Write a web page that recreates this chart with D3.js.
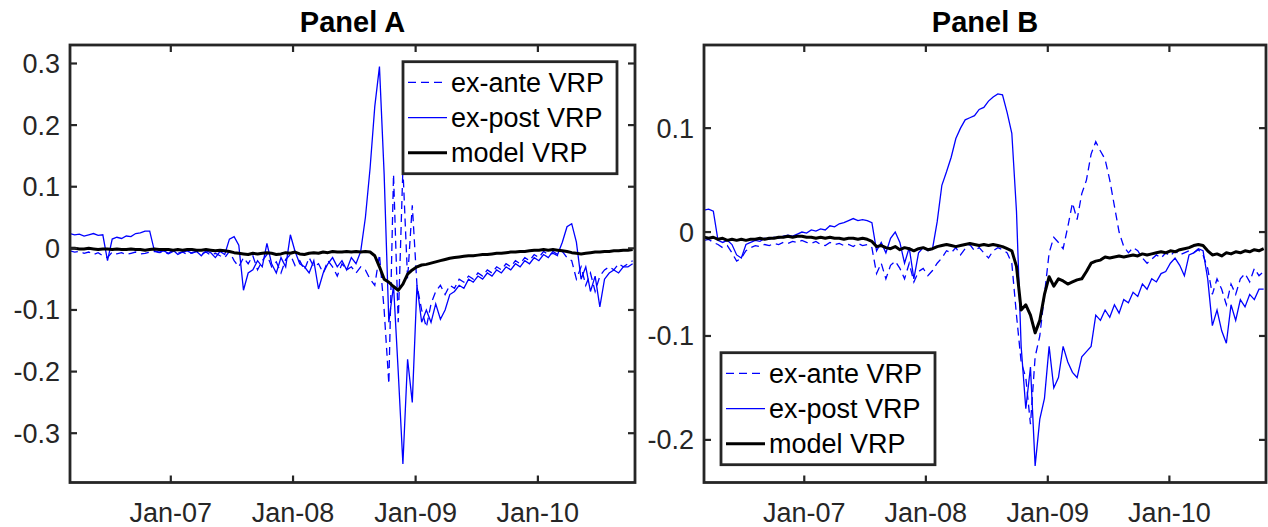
<!DOCTYPE html>
<meta charset="utf-8">
<head>
  <title>VRP panels</title>
</head>

<style>
body {
  margin: 0;
  background: #fff;
}
text {
  font-family: "Liberation Sans", Arial, Helvetica, sans-serif;
  fill: #262626;
}
</style>

<body>
  <svg width="1268" height="527"></svg>

  <script src="https://cdnjs.cloudflare.com/ajax/libs/d3/7.8.5/d3.min.js"></script>

  <script>
// biweekly observations from early March 2006
var startDate = new Date(2006, 2, 6);
var dates = d3.range(121).map(function(i) { return d3.timeDay.offset(startDate, 14 * i); });

var xTickDates = [new Date(2007, 0, 1), new Date(2008, 0, 1), new Date(2009, 0, 1), new Date(2010, 0, 1)];
var xTickLabels = ['Jan-07', 'Jan-08', 'Jan-09', 'Jan-10'];
var yTicksA = [-0.3, -0.2, -0.1, 0, 0.1, 0.2, 0.3];
var yTicksB = [-0.2, -0.1, 0, 0.1];
var legendLabels = ['ex-ante VRP', 'ex-post VRP', 'model VRP'];

// Panel A
var exAnteA = [
  -0.004, -0.006, -0.005, -0.008, -0.006, -0.010, -0.007, -0.012, -0.015, -0.006,
  -0.009, -0.007, -0.010, -0.008, -0.006, -0.009, -0.008, -0.006, -0.005, -0.007,
  -0.006, -0.009, -0.005, -0.008, -0.006, -0.010, -0.007, -0.005, -0.009, -0.006,
  -0.011, -0.008, -0.012, -0.015, -0.005, -0.020, -0.030, -0.015, -0.025, -0.012,
  -0.035, -0.020, -0.010, -0.030, -0.022, -0.040, -0.018, -0.010, -0.028, -0.020,
  -0.035, -0.015, -0.030, -0.025, -0.040, -0.020, -0.030, -0.045, -0.025, -0.035,
  -0.030, -0.040, -0.030, -0.035, -0.050, -0.060, -0.010, -0.100, -0.220, 0.120,
  -0.120, 0.130, -0.050, 0.070, -0.060, -0.100, -0.128, -0.090, -0.070, -0.060,
  -0.075, -0.060, -0.065, -0.050, -0.055, -0.045, -0.050, -0.040, -0.045, -0.035,
  -0.040, -0.030, -0.035, -0.025, -0.030, -0.020, -0.025, -0.015, -0.020, -0.010,
  -0.015, -0.005, -0.010, -0.008, -0.012, -0.005, -0.015, -0.020, -0.050, -0.030,
  -0.060, -0.040, -0.070, -0.045, -0.035, -0.030, -0.035, -0.025, -0.030, -0.025,
  -0.020
];
var exPostA = [
  0.024, 0.022, 0.023, 0.020, 0.022, 0.024, 0.021, 0.022, -0.020, 0.015,
  0.018, 0.016, 0.020, 0.019, 0.024, 0.025, 0.028, 0.028, -0.004, -0.006,
  -0.004, -0.008, -0.003, -0.010, -0.006, -0.004, -0.008, -0.005, -0.012, -0.004,
  -0.007, -0.015, -0.005, -0.010, 0.015, 0.019, 0.005, -0.068, -0.040, -0.035,
  -0.020, -0.030, 0.008, -0.025, -0.040, -0.015, -0.030, 0.022, -0.005, -0.025,
  -0.030, -0.040, -0.020, -0.066, -0.040, -0.025, -0.015, -0.030, -0.020, -0.035,
  -0.015, -0.025, -0.005, 0.050, 0.130, 0.230, 0.295, 0.120, -0.120, -0.060,
  -0.200, -0.350, -0.180, -0.250, -0.060, -0.120, -0.100, -0.120, -0.090, -0.115,
  -0.100, -0.075, -0.070, -0.060, -0.065, -0.050, -0.055, -0.045, -0.050, -0.040,
  -0.045, -0.035, -0.040, -0.030, -0.035, -0.025, -0.030, -0.020, -0.025, -0.015,
  -0.020, -0.010, -0.015, -0.005, -0.010, 0.010, 0.035, 0.040, 0.010, -0.050,
  -0.030, -0.070, -0.045, -0.095, -0.050, -0.040, -0.035, -0.040, -0.030, -0.030,
  -0.025
];
var modelA = [
  0.000, 0.000, -0.001, -0.001, 0.000, -0.001, -0.002, -0.001, -0.001, -0.002,
  -0.001, -0.002, -0.002, -0.001, -0.002, -0.002, -0.003, -0.002, -0.001, -0.002,
  -0.002, -0.002, -0.003, -0.002, -0.003, -0.002, -0.002, -0.003, -0.003, -0.002,
  -0.003, -0.004, -0.003, -0.004, -0.005, -0.007, -0.008, -0.009, -0.010, -0.008,
  -0.009, -0.008, -0.007, -0.008, -0.010, -0.009, -0.007, -0.008, -0.006, -0.009,
  -0.010, -0.008, -0.007, -0.008, -0.006, -0.007, -0.005, -0.006, -0.006, -0.005,
  -0.006, -0.005, -0.006, -0.005, -0.006, -0.012, -0.030, -0.050, -0.055, -0.062,
  -0.068, -0.058, -0.042, -0.035, -0.030, -0.027, -0.026, -0.024, -0.022, -0.020,
  -0.018, -0.016, -0.015, -0.014, -0.013, -0.012, -0.012, -0.011, -0.010, -0.010,
  -0.009, -0.008, -0.008, -0.007, -0.006, -0.006, -0.005, -0.005, -0.004, -0.003,
  -0.003, -0.002, -0.003, -0.002, -0.003, -0.004, -0.005, -0.007, -0.008, -0.009,
  -0.008, -0.007, -0.006, -0.006, -0.005, -0.005, -0.004, -0.004, -0.003, -0.003,
  -0.002
];

// Panel B
var exAnteB = [
  -0.008, -0.007, -0.010, -0.012, -0.015, -0.013, -0.020, -0.028, -0.025, -0.018,
  -0.015, -0.013, -0.014, -0.012, -0.013, -0.011, -0.012, -0.010, -0.011, -0.009,
  -0.010, -0.008, -0.010, -0.011, -0.009, -0.012, -0.013, -0.010, -0.012, -0.011,
  -0.013, -0.012, -0.014, -0.011, -0.013, -0.012, -0.015, -0.040, -0.030, -0.045,
  -0.032, -0.028, -0.035, -0.045, -0.030, -0.048, -0.038, -0.035, -0.042, -0.037,
  -0.030, -0.025, -0.018, -0.020, -0.015, -0.022, -0.016, -0.012, -0.018, -0.015,
  -0.020, -0.025, -0.018, -0.015, -0.017, -0.020, -0.030, -0.080, -0.125, -0.140,
  -0.185, -0.120, -0.100, -0.060, -0.020, -0.005, -0.010, -0.016, 0.005, 0.028,
  0.012, 0.037, 0.050, 0.075, 0.087, 0.078, 0.070, 0.050, 0.025, 0.000,
  -0.014, -0.020, -0.015, -0.018, -0.025, -0.030, -0.026, -0.022, -0.025, -0.020,
  -0.023, -0.018, -0.022, -0.020, -0.018, -0.020, -0.017, -0.022, -0.035, -0.060,
  -0.045, -0.055, -0.070, -0.050, -0.060, -0.045, -0.040, -0.048, -0.035, -0.042,
  -0.038
];
var exPostB = [
  0.021, 0.022, 0.020, -0.008, -0.010, -0.008, -0.012, -0.022, -0.025, -0.012,
  -0.010, -0.008, -0.009, -0.006, -0.007, -0.005, -0.006, -0.004, -0.003, -0.004,
  -0.002, 0.000, -0.001, 0.002, 0.001, 0.003, 0.002, 0.006, 0.005, 0.008,
  0.009, 0.011, 0.013, 0.011, 0.012, 0.011, 0.009, -0.018, -0.010, -0.020,
  -0.006, 0.000, -0.010, -0.030, -0.015, -0.045, -0.020, -0.015, -0.018, -0.016,
  0.010, 0.045, 0.058, 0.072, 0.090, 0.100, 0.108, 0.110, 0.112, 0.118,
  0.120, 0.126, 0.130, 0.133, 0.132, 0.115, 0.095, 0.020, -0.110, -0.170,
  -0.130, -0.225, -0.180, -0.160, -0.110, -0.150, -0.140, -0.110, -0.125, -0.135,
  -0.140, -0.120, -0.115, -0.110, -0.080, -0.085, -0.075, -0.082, -0.070, -0.078,
  -0.065, -0.068, -0.058, -0.062, -0.050, -0.055, -0.045, -0.048, -0.040, -0.038,
  -0.030, -0.025, -0.032, -0.042, -0.022, -0.020, -0.016, -0.018, -0.045, -0.090,
  -0.075, -0.095, -0.107, -0.070, -0.085, -0.065, -0.072, -0.060, -0.065, -0.055,
  -0.055
];
var modelB = [
  -0.005, -0.006, -0.005, -0.007, -0.006, -0.008, -0.007, -0.008, -0.007, -0.008,
  -0.007, -0.007, -0.006, -0.007, -0.006, -0.006, -0.005, -0.005, -0.004, -0.005,
  -0.004, -0.004, -0.005, -0.005, -0.006, -0.005, -0.006, -0.005, -0.006, -0.006,
  -0.007, -0.006, -0.006, -0.007, -0.006, -0.007, -0.009, -0.014, -0.013, -0.015,
  -0.016, -0.014, -0.017, -0.015, -0.016, -0.018, -0.016, -0.015, -0.017, -0.016,
  -0.014, -0.013, -0.012, -0.013, -0.014, -0.013, -0.012, -0.011, -0.012, -0.013,
  -0.012, -0.013, -0.012, -0.013, -0.014, -0.016, -0.018, -0.033, -0.075, -0.070,
  -0.080, -0.097, -0.085, -0.060, -0.043, -0.052, -0.045, -0.047, -0.050, -0.048,
  -0.046, -0.045, -0.038, -0.030, -0.028, -0.027, -0.024, -0.025, -0.024, -0.023,
  -0.024, -0.023, -0.022, -0.023, -0.021, -0.022, -0.021, -0.020, -0.019, -0.020,
  -0.018, -0.019, -0.017, -0.016, -0.015, -0.013, -0.012, -0.013, -0.018, -0.022,
  -0.021, -0.023, -0.020, -0.021, -0.019, -0.020, -0.018, -0.019, -0.017, -0.018,
  -0.016
];

var axisColor = '#262626';
var svg = d3.select('svg');

svg.append('rect').attr('width', 1268).attr('height', 527).attr('fill', '#fff');

function drawPanel(p) {
  var x = d3.scaleTime()
    .domain([startDate, new Date(2010, 9, 18)])
    .range([p.left, p.right]);
  var y = d3.scaleLinear()
    .domain(p.yDomain)
    .range([p.bottom, p.top]);

  var g = svg.append('g');

  g.append('clipPath').attr('id', 'clip' + p.id)
    .append('rect')
    .attr('x', p.left).attr('y', p.top)
    .attr('width', p.right - p.left).attr('height', p.bottom - p.top);

  var line = d3.line()
    .x(function(d, i) { return x(dates[i]); })
    .y(function(d) { return y(d); });

  var plot = g.append('g').attr('clip-path', 'url(#clip' + p.id + ')');

  plot.append('path').attr('d', line(p.exAnte))
    .attr('fill', 'none').attr('stroke', '#0000ff')
    .attr('stroke-width', 1.3).attr('stroke-dasharray', '8,5');
  plot.append('path').attr('d', line(p.exPost))
    .attr('fill', 'none').attr('stroke', '#0000ff')
    .attr('stroke-width', 1.3);
  plot.append('path').attr('d', line(p.model))
    .attr('fill', 'none').attr('stroke', '#000')
    .attr('stroke-width', 3).attr('stroke-linejoin', 'round');

  // ticks inside, on all four sides
  var tickLen = 7;
  xTickDates.forEach(function(d, i) {
    var xx = x(d);
    g.append('line').attr('x1', xx).attr('x2', xx)
      .attr('y1', p.bottom).attr('y2', p.bottom - tickLen)
      .attr('stroke', axisColor).attr('stroke-width', 2.2);
    g.append('line').attr('x1', xx).attr('x2', xx)
      .attr('y1', p.top).attr('y2', p.top + tickLen)
      .attr('stroke', axisColor).attr('stroke-width', 2.2);
    g.append('text').attr('x', xx).attr('y', 521.5)
      .attr('text-anchor', 'middle').style('font-size', '27px')
      .text(xTickLabels[i]);
  });
  p.yTicks.forEach(function(v) {
    var yy = y(v);
    g.append('line').attr('x1', p.left).attr('x2', p.left + tickLen)
      .attr('y1', yy).attr('y2', yy)
      .attr('stroke', axisColor).attr('stroke-width', 2.2);
    g.append('line').attr('x1', p.right).attr('x2', p.right - tickLen)
      .attr('y1', yy).attr('y2', yy)
      .attr('stroke', axisColor).attr('stroke-width', 2.2);
    g.append('text').attr('x', p.left - 10).attr('y', yy + 9.5)
      .attr('text-anchor', 'end').style('font-size', '27px')
      .text(String(v));
  });

  g.append('rect')
    .attr('x', p.left).attr('y', p.top)
    .attr('width', p.right - p.left).attr('height', p.bottom - p.top)
    .attr('fill', 'none').attr('stroke', axisColor).attr('stroke-width', 2.8);

  g.append('text')
    .attr('x', (p.left + p.right) / 2).attr('y', 31.5)
    .attr('text-anchor', 'middle')
    .style('font-size', '29px').style('font-weight', 'bold').style('fill', '#000')
    .text(p.title);

  // legend
  var lg = g.append('g').attr('transform', 'translate(' + p.legendX + ',' + p.legendY + ')');
  lg.append('rect').attr('width', 214).attr('height', 112)
    .attr('fill', '#fff').attr('stroke', axisColor).attr('stroke-width', 2.8);
  var rows = [20.6, 56, 91];
  var styles = [
    {color: '#0000ff', width: 1.3, dash: '8,5'},
    {color: '#0000ff', width: 1.3, dash: null},
    {color: '#000', width: 3, dash: null}
  ];
  legendLabels.forEach(function(lab, i) {
    lg.append('line').attr('x1', 5).attr('x2', 44)
      .attr('y1', rows[i]).attr('y2', rows[i])
      .attr('stroke', styles[i].color).attr('stroke-width', styles[i].width)
      .attr('stroke-dasharray', styles[i].dash);
    lg.append('text').attr('x', 48).attr('y', rows[i] + 9.4)
      .style('font-size', '27px').style('fill', '#000')
      .text(lab);
  });
}

drawPanel({
  id: 'A', title: 'Panel A',
  left: 70, right: 635, top: 45, bottom: 482.5,
  yDomain: [-0.38, 0.33], yTicks: yTicksA,
  exAnte: exAnteA, exPost: exPostA, model: modelA,
  legendX: 403, legendY: 61.7
});

drawPanel({
  id: 'B', title: 'Panel B',
  left: 704, right: 1266, top: 45, bottom: 482.5,
  yDomain: [-0.241, 0.18], yTicks: yTicksB,
  exAnte: exAnteB, exPost: exPostB, model: modelB,
  legendX: 721, legendY: 352.7
});
  </script>
</body>
</html>
